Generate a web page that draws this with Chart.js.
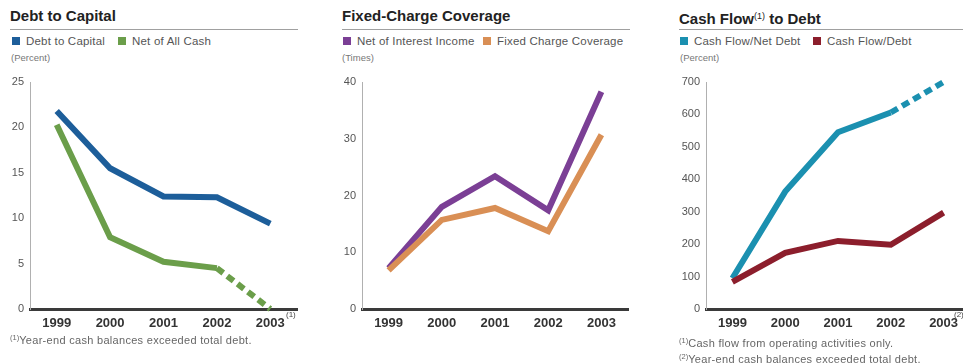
<!DOCTYPE html>
<html lang="en">
  <head>
    <meta charset="UTF-8" />
    <title>Credit Ratios 1999-2003</title>
    <script src="https://cdn.jsdelivr.net/npm/chart.js"></script>
    <style>
      body {
        margin: 0;
        width: 963px;
        height: 364px;
        overflow: hidden;
        background: #fff;
        position: relative;
        font-family: "Liberation Sans", Arial, sans-serif;
      }
      canvas {
        position: absolute;
        top: 0;
      }
      .txt {
        position: absolute;
        white-space: nowrap;
      }
      .title {
        font-size: 15px;
        font-weight: bold;
        color: #222;
        line-height: 16px;
        top: 8px;
      }
      .rule {
        position: absolute;
        top: 29px;
        height: 1px;
        background: #a0a0a0;
      }
      .legend {
        top: 35px;
        font-size: 11.5px;
        letter-spacing: 0.2px;
        line-height: 12px;
        color: #555;
      }
      .sq {
        position: absolute;
        top: 37px;
        width: 8px;
        height: 8px;
      }
      .unit {
        top: 53px;
        font-size: 9.5px;
        line-height: 10px;
        color: #777;
      }
      .note {
        font-size: 11px;
        letter-spacing: 0.3px;
        line-height: 12px;
        color: #666;
      }
      .sup {
        font-size: 7.5px;
        letter-spacing: 0;
        vertical-align: 4px;
      }
      .tsup {
        font-size: 9px;
        vertical-align: 5px;
        font-weight: normal;
      }
    </style>
  </head>
  <body>
    <!-- Debt to Capital -->
    <div class="txt title" style="left: 10px">Debt to Capital</div>
    <div class="rule" style="left: 10px; width: 288px"></div>
    <div class="sq" style="left: 12px; background: #1d5e9a"></div>
    <div class="txt legend" style="left: 26px">Debt to Capital</div>
    <div class="sq" style="left: 118px; background: #6b9e4a"></div>
    <div class="txt legend" style="left: 132px">Net of All Cash</div>
    <div class="txt unit" style="left: 11px">(Percent)</div>
    <canvas id="chart1" width="310" height="364" style="left: 0"></canvas>
    <div class="txt note" style="left: 286px; top: 309px; font-size: 8px; letter-spacing: 0; color: #444">(1)</div>
    <div class="txt note" style="left: 10px; top: 332px">
      <span class="sup">(1)</span>Year-end cash balances exceeded total debt.
    </div>

    <!-- Fixed-Charge Coverage -->
    <div class="txt title" style="left: 342px">Fixed-Charge Coverage</div>
    <div class="rule" style="left: 342px; width: 288px"></div>
    <div class="sq" style="left: 343px; background: #7b3f95"></div>
    <div class="txt legend" style="left: 357px">Net of Interest Income</div>
    <div class="sq" style="left: 483px; background: #d98f55"></div>
    <div class="txt legend" style="left: 497px">Fixed Charge Coverage</div>
    <div class="txt unit" style="left: 342px">(Times)</div>
    <canvas id="chart2" width="320" height="364" style="left: 320px"></canvas>

    <!-- Cash Flow to Debt -->
    <div class="txt title" style="left: 679px">
      Cash Flow<span class="tsup">(1)</span> to Debt
    </div>
    <div class="rule" style="left: 679px; width: 284px"></div>
    <div class="sq" style="left: 680px; background: #1b90b0"></div>
    <div class="txt legend" style="left: 694px">Cash Flow/Net Debt</div>
    <div class="sq" style="left: 813px; background: #8c1e2c"></div>
    <div class="txt legend" style="left: 827px">Cash Flow/Debt</div>
    <div class="txt unit" style="left: 680px">(Percent)</div>
    <canvas id="chart3" width="340" height="364" style="left: 640px"></canvas>
    <div class="txt note" style="left: 954px; top: 309px; font-size: 8px; letter-spacing: 0; color: #444">(2)</div>
    <div class="txt note" style="left: 679px; top: 335px">
      <span class="sup">(1)</span>Cash flow from operating activities only.
    </div>
    <div class="txt note" style="left: 679px; top: 351px">
      <span class="sup">(2)</span>Year-end cash balances exceeded total debt.
    </div>

    <script>
      const years = ["1999", "2000", "2001", "2002", "2003"];

      // percent
      const debtToCapital = [21.8, 15.5, 12.4, 12.3, 9.4];
      const netOfAllCash = [20.3, 7.9, 5.2, 4.5, 0];

      // times
      const netOfInterestIncome = [7.2, 18.0, 23.4, 17.4, 38.3];
      const fixedChargeCoverage = [6.8, 15.7, 17.8, 13.7, 30.7];

      // percent
      const cashFlowNetDebt = [95, 362, 545, 606, 700];
      const cashFlowDebt = [84, 173, 210, 198, 297];

      // last segment is dashed where cash exceeded debt
      const dashLast = {
        borderDash: (ctx) => (ctx.p0DataIndex === 3 ? [8, 5] : undefined),
      };

      function lineSet(label, data, color, dashed) {
        return {
          label: label,
          data: data,
          borderColor: color,
          backgroundColor: color,
          borderWidth: 6,
          pointRadius: 0,
          tension: 0,
          fill: false,
          clip: false,
          borderJoinStyle: "miter",
          borderCapStyle: "butt",
          segment: dashed ? dashLast : {},
        };
      }

      function makeChart(id, datasets, yMax, yStep, axisWidth, pad) {
        const ctx = document.getElementById(id).getContext("2d");
        return new Chart(ctx, {
          type: "line",
          data: { labels: years, datasets: datasets },
          options: {
            responsive: false,
            animation: false,
            events: [],
            layout: { padding: pad },
            plugins: { legend: { display: false }, tooltip: { enabled: false } },
            scales: {
              x: {
                offset: true,
                grid: { display: false, drawTicks: false },
                border: { display: true, color: "#3a3a3a", width: 3 },
                ticks: {
                  padding: 7,
                  color: "#333",
                  font: { family: "Liberation Sans", size: 13, weight: "bold" },
                  maxRotation: 0,
                },
                afterFit: (s) => {
                  s.height = 22;
                },
              },
              y: {
                min: 0,
                max: yMax,
                grid: { display: false, drawTicks: false },
                border: { display: true, color: "#b0b0b0", width: 1 },
                ticks: {
                  stepSize: yStep,
                  padding: 6,
                  color: "#555",
                  font: { family: "Liberation Sans", size: 11 },
                },
                afterFit: (s) => {
                  s.width = axisWidth;
                },
              },
            },
          },
        });
      }

      makeChart(
        "chart1",
        [
          lineSet("Debt to Capital", debtToCapital, "#1d5e9a", false),
          lineSet("Net of All Cash", netOfAllCash, "#6b9e4a", true),
        ],
        25,
        5,
        30,
        { top: 82, right: 13, bottom: 33, left: 0 }
      );

      makeChart(
        "chart2",
        [
          lineSet("Fixed Charge Coverage", fixedChargeCoverage, "#d98f55", false),
          lineSet("Net of Interest Income", netOfInterestIncome, "#7b3f95", false),
        ],
        40,
        10,
        42,
        { top: 82, right: 12, bottom: 33, left: 0 }
      );

      makeChart(
        "chart3",
        [
          lineSet("Cash Flow/Debt", cashFlowDebt, "#8c1e2c", false),
          lineSet("Cash Flow/Net Debt", cashFlowNetDebt, "#1b90b0", true),
        ],
        700,
        100,
        66,
        { top: 82, right: 10, bottom: 33, left: 0 }
      );
    </script>
  </body>
</html>
